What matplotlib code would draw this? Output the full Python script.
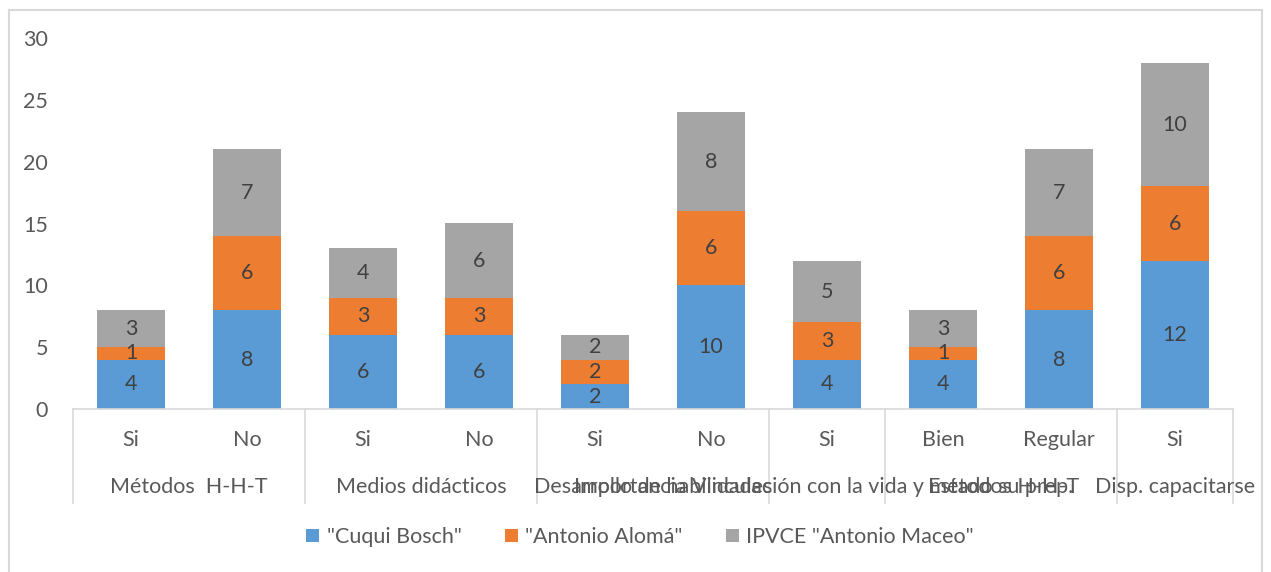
import matplotlib
matplotlib.use("Agg")
import matplotlib.pyplot as plt
from matplotlib.lines import Line2D
from matplotlib.patches import Patch
import matplotlib.transforms as mtransforms

plt.rcParams['font.family'] = ['Lato', 'DejaVu Sans']

# Sub-categories (one per bar) and their groups
sub_labels = ["Si", "No", "Si", "No", "Si", "No", "Si", "Bien", "Regular", "Si"]
groups = ["Métodos  H-H-T", "Medios didácticos", "Desarrollo de habilidades",
          "Importancia Vinculación con la vida y métodos H-H-T",
          "Estado su prep.", "Disp. capacitarse"]
group_sizes = [2, 2, 2, 1, 2, 1]

series_names = ['"Cuqui Bosch"', '"Antonio Alomá"', 'IPVCE "Antonio Maceo"']
cuqui = [4, 8, 6, 6, 2, 10, 4, 4, 8, 12]
aloma = [1, 6, 3, 3, 2, 6, 3, 1, 6, 6]
maceo = [3, 7, 4, 6, 2, 8, 5, 3, 7, 10]
colors = ["#5B9BD5", "#ED7D31", "#A5A5A5"]

yticks = [0, 5, 10, 15, 20, 25, 30]

W, H = 1271, 572
fig = plt.figure(figsize=(W / 100, H / 100), dpi=100)
ax = fig.add_axes([73 / W, 1 - 409 / H, (1233 - 73) / W, (409 - 38) / H])

text_col = "#595959"
fs = 15.5
x = list(range(len(sub_labels)))
bottom = [0] * len(x)
for vals, col in zip([cuqui, aloma, maceo], colors):
    ax.bar(x, vals, width=0.58, bottom=bottom, color=col, zorder=2)
    for xi, v, b in zip(x, vals, bottom):
        ax.text(xi, b + v / 2, str(v), ha="center", va="center",
                fontsize=fs, color="#404040", zorder=3)
    bottom = [b + v for b, v in zip(bottom, vals)]

ax.set_xlim(-0.5, len(x) - 0.5)
ax.set_ylim(0, 30)
ax.set_yticks(yticks)
ax.set_yticklabels([str(t) for t in yticks], fontsize=fs, color=text_col)
ax.tick_params(axis="y", length=0, pad=18)
ax.set_xticks([])
for s in ["top", "right", "left", "bottom"]:
    ax.spines[s].set_visible(False)

# Category axis: baseline, separators and two rows of labels
trans = mtransforms.blended_transform_factory(ax.transData, fig.transFigure)
line_col = "#D9D9D9"
y_axis = 1 - 409 / H
y_sep_end = 1 - 503 / H
ax.add_line(Line2D([-0.5, len(x) - 0.5], [y_axis, y_axis], transform=trans,
                   color=line_col, lw=1.2, clip_on=False))
for xi, lab in zip(x, sub_labels):
    ax.text(xi, 1 - 440 / H, lab, transform=trans, ha="center", va="center",
            fontsize=fs, color=text_col)
start = -0.5
bounds = [start]
for gname, n in zip(groups, group_sizes):
    end = start + n
    ax.text((start + end) / 2, 1 - 487 / H, gname, transform=trans,
            ha="center", va="center", fontsize=fs, color=text_col)
    start = end
    bounds.append(end)
for b in bounds:
    ax.add_line(Line2D([b, b], [y_axis, y_sep_end], transform=trans,
                       color=line_col, lw=1.2, clip_on=False))

# Legend
handles = [Patch(facecolor=c, edgecolor="none") for c in colors]
fig.legend(handles, series_names, loc="center", bbox_to_anchor=(640 / W, 1 - 537 / H),
           ncol=3, frameon=False, fontsize=fs, handlelength=0.6, handleheight=0.6,
           columnspacing=2.0, handletextpad=0.35, labelcolor=text_col)

# Chart frame
frame_col = "#D9D9D9"
for xs, ys in [([9, 9], [10, 600]), ([9, 1262], [10, 10]), ([1262, 1262], [10, 600])]:
    fig.add_artist(Line2D([v / W for v in xs], [1 - v / H for v in ys],
                          transform=fig.transFigure, color=frame_col, lw=1.5))

fig.savefig("out.png", dpi=100, facecolor="white")
